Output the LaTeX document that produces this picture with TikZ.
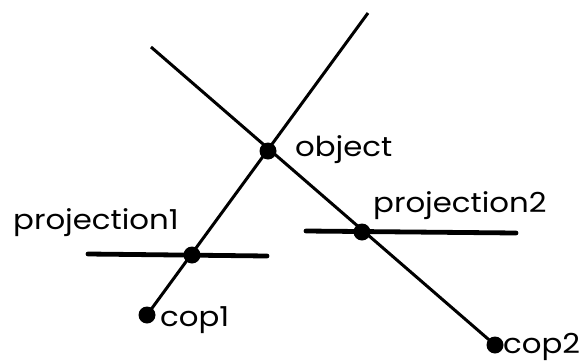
\documentclass[tikz,border=0pt]{standalone}
\usepackage{fontspec}
\setmainfont{Poppins}[FakeStretch=1.12]
\begin{document}
\begin{tikzpicture}[x=1pt,y=-1pt,
  ray/.style={line width=3pt},
  plane/.style={line width=4.8pt,line cap=round},
  pt/.style={circle,fill=black,inner sep=0pt,minimum size=17pt},
  lbl/.style={anchor=base west,inner sep=0pt,font=\fontsize{27.5}{30}\selectfont}]
\useasboundingbox (0,0) rectangle (587,362);
% points
\node[pt] (obj) at (268,151) {};
\node[pt] (p1) at (192,255) {};
\node[pt] (p2) at (362,232) {};
\node[pt] (c1) at (147,315) {};
\node[pt] (c2) at (495,345) {};
\coordinate (t1) at (368,13);
\coordinate (t2) at (151,47);
\coordinate (h1a) at (88,254);
\coordinate (h1b) at (267,256);
\coordinate (h2a) at (306,231);
\coordinate (h2b) at (516,233);
% rays
\draw[ray] (c1.center) -- (t1);
\draw[ray] (t2) -- (c2.center);
% projection planes
\draw[plane] (h1a) -- (h1b);
\draw[plane] (h2a) -- (h2b);
% labels
\node[lbl] (lo) at (295,156) {object};
\node[lbl] (lp1) at (13,229) {projection1};
\node[lbl] (lp2) at (373,212) {projection2};
\node[lbl] (lc1) at (160,326) {cop1};
\node[lbl] (lc2) at (503,353) {cop2};
\end{tikzpicture}
\end{document}
